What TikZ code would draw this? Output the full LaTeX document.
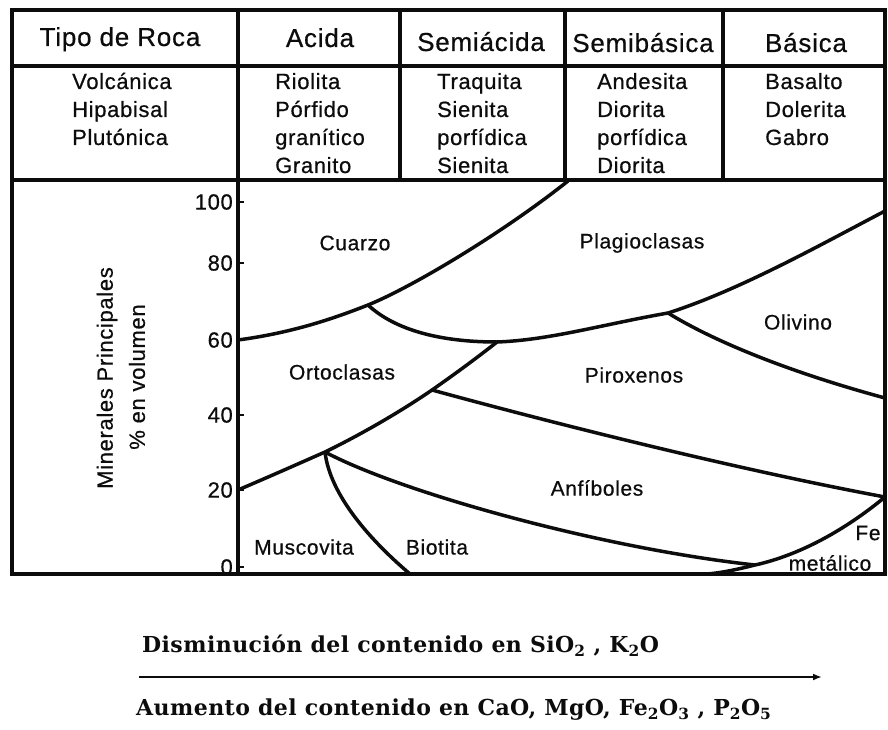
\documentclass[tikz,border=0pt]{standalone}
\usepackage{fontspec}
\setmainfont{Liberation Sans}[LetterSpace=3, FakeBold=0.6]
\newfontfamily\bookfont[LetterSpace=2]{DejaVu Serif}
\usepackage{tikz}
\definecolor{ink}{RGB}{12,12,12}
\usetikzlibrary{calc, positioning, arrows.meta}
\tikzset{
  frame/.style={draw=ink, line width=4pt},
  curve/.style={draw=ink, line width=3.5pt, line join=round},
  headtxt/.style={font=\fontsize{26}{30}\selectfont, text=ink, inner sep=0, anchor=base},
  celltxt/.style={font=\fontsize{22}{28}\selectfont, text=ink, inner sep=0, anchor=base west},
  mintxt/.style={font=\fontsize{21}{25}\selectfont, text=ink, inner sep=1pt},
  ticktxt/.style={font=\fontsize{22}{26}\selectfont, text=ink, inner sep=0, anchor=east},
  notetxt/.style={font=\bookfont\bfseries\fontsize{22}{26}\selectfont, text=ink, inner sep=0, anchor=base west}
}

\begin{document}
\begin{tikzpicture}[x=1pt, y=-1pt]
   \useasboundingbox (0,0) rectangle (888,730);
     %table frame
     \draw[frame] (12,10) rectangle (885,574);
     \draw[frame, line width=3.5pt] (12,66) -- (885,66);
     \draw[frame] (12,180) -- (885,180);
     \foreach \cx in {238,400,565,723} \draw[frame, line width=3.5pt] (\cx,10) -- (\cx,180);
     \draw[frame] (238,180) -- (238,574);
     %header row
     \node[headtxt] (tipo) at (120,46) {Tipo de Roca};
     \node[headtxt] (acida) at (320,47) {Acida};
     \node[headtxt] (semiac) at (481,51) {Semiácida};
     \node[headtxt] (semibas) at (643,52) {Semibásica};
     \node[headtxt] (basica) at (806,52) {Básica};
     %row 2
     \foreach \w [count=\k] in {Volcánica, Hipabisal, Plutónica}
        \node[celltxt] (tipo-\k) at (72, {61+28*\k}) {\w};
     \foreach \w [count=\k] in {Riolita, Pórfido, granítico, Granito}
        \node[celltxt] (acida-\k) at (275, {61+28*\k}) {\w};
     \foreach \w [count=\k] in {Traquita, Sienita, porfídica, Sienita}
        \node[celltxt] (semiac-\k) at (437, {61+28*\k}) {\w};
     \foreach \w [count=\k] in {Andesita, Diorita, porfídica, Diorita}
        \node[celltxt] (semibas-\k) at (597, {61+28*\k}) {\w};
     \foreach \w [count=\k] in {Basalto, Dolerita, Gabro}
        \node[celltxt] (basica-\k) at (765, {61+28*\k}) {\w};
     %axis
     \foreach \v/\ty in {100/202, 80/263, 60/340, 40/415, 20/490, 0/567} {
        \draw[ink, line width=2pt] (238,\ty) -- +(6,0);
        \node[ticktxt] (tick-\v) at (233,\ty) {\v};
     }
     \node[mintxt, font=\fontsize{22}{25}\selectfont, rotate=90] (ylab1) at (107,378) {Minerales Principales};
     \node[mintxt, font=\fontsize{22}{25}\selectfont, rotate=90] (ylab2) at (137,377) {\% en volumen};
     %junctions
     \coordinate (q60) at (238,340);
     \coordinate (jA) at (368,305);
     \coordinate (qTop) at (568,181);
     \coordinate (jB) at (497,342);
     \coordinate (jC) at (668,313);
     \coordinate (pR) at (885,211);
     \coordinate (oR) at (885,398);
     \coordinate (q20) at (238,490);
     \coordinate (jD) at (325,452);
     \coordinate (jE) at (432,390);
     \coordinate (aR) at (885,497);
     \coordinate (jF) at (755,565);
     \coordinate (mB) at (410,574);
     \coordinate (fB) at (707,574);
     %curves
     \draw[curve] (q60) .. controls (290,333) and (330,320) .. (jA) .. controls (410,288) and (500,235) .. (qTop);
     \draw[curve] (jA) .. controls (395,330) and (440,342) .. (jB) .. controls (550,340) and (600,325) .. (jC) .. controls (740,290) and (820,245) .. (pR);
     \draw[curve] (q20) .. controls (280,472) and (300,463) .. (jD) .. controls (360,435) and (400,412) .. (jE) .. controls (455,374) and (478,357) .. (jB);
     \draw[curve] (jE) .. controls (560,425) and (740,470) .. (aR);
     \draw[curve] (jC) .. controls (720,345) and (800,375) .. (oR);
     \draw[curve] (jD) .. controls (400,492) and (600,548) .. (jF);
     \draw[curve] (jD) .. controls (330,495) and (370,540) .. (mB);
     \draw[curve] (aR) .. controls (845,530) and (800,555) .. (jF) .. controls (735,570) and (720,573) .. (fB);
     %minerals
     \node[mintxt] (cuarzo) at (355,243) {Cuarzo};
     \node[mintxt] (plagio) at (642,243) {Plagioclasas};
     \node[mintxt] (ortho) at (342,372) {Ortoclasas};
     \node[mintxt] (olivino) at (798,322) {Olivino};
     \node[mintxt] (pirox) at (634,375) {Piroxenos};
     \node[mintxt] (anfib) at (597,488) {Anfíboles};
     \node[mintxt] (musco) at (304,547) {Muscovita};
     \node[mintxt] (biot) at (437,547) {Biotita};
     \node[mintxt] (fe) at (868,533) {Fe};
     \node[mintxt] (metal) at (830,563) {metálico};
     %bottom notes
     \node[notetxt] (dismin) at (142,652) {Disminución del contenido en SiO\textsubscript{2} , K\textsubscript{2}O};
     \coordinate (arrS) at (139,677);
     \coordinate (arrE) at (822,677);
     \draw[ink, line width=2.5pt, -{Latex[length=9pt, width=7pt]}] (arrS) -- (arrE);
     \node[notetxt] (aument) at (136,715) {Aumento del contenido en CaO, MgO, Fe\textsubscript{2}O\textsubscript{3} , P\textsubscript{2}O\textsubscript{5}};
\end{tikzpicture}
\end{document}
